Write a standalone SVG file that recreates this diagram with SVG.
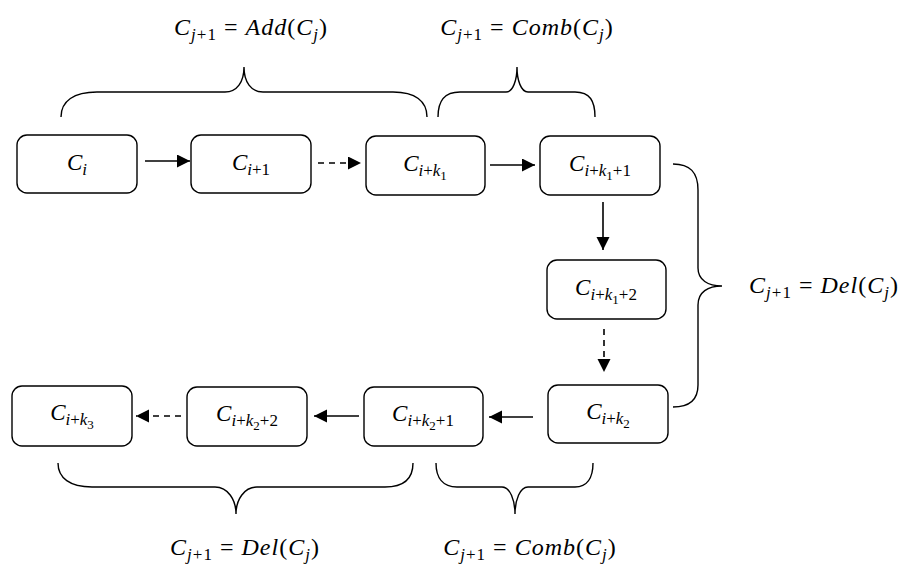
<svg xmlns="http://www.w3.org/2000/svg" width="901" height="566" viewBox="0 0 901 566">
<style>
.box{fill:#fff;stroke:#000;stroke-width:1.4}
.t{font-family:"Liberation Serif","DejaVu Serif",serif;font-size:23px;font-style:italic;text-anchor:middle;fill:#000}
.l{font-size:24px;letter-spacing:1px}
.s{font-size:17px}
.ss{font-size:13px}
.u{font-style:normal}
.c{fill:none;stroke:#000;stroke-width:1.6}
.d{stroke-dasharray:6 5}
.br{fill:none;stroke:#000;stroke-width:1.4}
</style>
<defs>
<marker id="ah" markerUnits="userSpaceOnUse" markerWidth="14" markerHeight="14" refX="13" refY="6.5" orient="auto">
<path d="M0,0 L13,6.5 L0,13 Z" fill="#000"/>
</marker>
</defs>
<g id="n1"><rect class="box" x="17" y="135" width="120" height="58" rx="10"/><text class="t" x="77" y="170">C<tspan class="s" dy="5">i</tspan></text></g>
<g id="n2"><rect class="box" x="191" y="135" width="120" height="58" rx="10"/><text class="t" x="251" y="170">C<tspan class="s" dy="5">i</tspan><tspan class="s u">+1</tspan></text></g>
<g id="n3"><rect class="box" x="366" y="136" width="119" height="59" rx="10"/><text class="t" x="425" y="171">C<tspan class="s" dy="5">i</tspan><tspan class="s u">+</tspan><tspan class="s">k</tspan><tspan class="ss u" dy="4">1</tspan></text></g>
<g id="n4"><rect class="box" x="540" y="136" width="120" height="59" rx="10"/><text class="t" x="600" y="171">C<tspan class="s" dy="5">i</tspan><tspan class="s u">+</tspan><tspan class="s">k</tspan><tspan class="ss u" dy="4">1</tspan><tspan class="s u" dy="-4">+1</tspan></text></g>
<g id="n5"><rect class="box" x="547" y="260" width="119" height="59" rx="10"/><text class="t" x="606" y="295">C<tspan class="s" dy="5">i</tspan><tspan class="s u">+</tspan><tspan class="s">k</tspan><tspan class="ss u" dy="4">1</tspan><tspan class="s u" dy="-4">+2</tspan></text></g>
<g id="n6"><rect class="box" x="548" y="385" width="120" height="58" rx="10"/><text class="t" x="608" y="419">C<tspan class="s" dy="5">i</tspan><tspan class="s u">+</tspan><tspan class="s">k</tspan><tspan class="ss u" dy="4">2</tspan></text></g>
<g id="n7"><rect class="box" x="364" y="387" width="119" height="59" rx="10"/><text class="t" x="423" y="421">C<tspan class="s" dy="5">i</tspan><tspan class="s u">+</tspan><tspan class="s">k</tspan><tspan class="ss u" dy="4">2</tspan><tspan class="s u" dy="-4">+1</tspan></text></g>
<g id="n8"><rect class="box" x="187" y="387" width="120" height="59" rx="10"/><text class="t" x="247" y="421">C<tspan class="s" dy="5">i</tspan><tspan class="s u">+</tspan><tspan class="s">k</tspan><tspan class="ss u" dy="4">2</tspan><tspan class="s u" dy="-4">+2</tspan></text></g>
<g id="n9"><rect class="box" x="12" y="386" width="120" height="60" rx="10"/><text class="t" x="72" y="420">C<tspan class="s" dy="5">i</tspan><tspan class="s u">+</tspan><tspan class="s">k</tspan><tspan class="ss u" dy="4">3</tspan></text></g>
<g id="connectors">
<line class="c" x1="145" y1="161" x2="190" y2="161" marker-end="url(#ah)"/>
<line class="c d" x1="318" y1="163" x2="361" y2="163" marker-end="url(#ah)"/>
<line class="c" x1="490" y1="165" x2="535" y2="165" marker-end="url(#ah)"/>
<line class="c" x1="603" y1="202" x2="603" y2="250" marker-end="url(#ah)"/>
<line class="c d" x1="604" y1="329" x2="604" y2="372" marker-end="url(#ah)"/>
<line class="c" x1="533" y1="417" x2="489" y2="417" marker-end="url(#ah)"/>
<line class="c" x1="359" y1="416" x2="314" y2="416" marker-end="url(#ah)"/>
<line class="c d" x1="181" y1="416" x2="136" y2="416" marker-end="url(#ah)"/>
</g>
<g id="braces">
<path class="br" d="M61,117 C61,101 74,92 97,92 L225,92 C237,92 244,82 244,67 C244,82 251,92 263,92 L393,92 C415,92 427,101 427,117"/>
<path class="br" d="M438,117 C438,101 444,92 460,92 L506,92 C513,92 517,80 517,67 C517,80 521,92 528,92 L575,92 C590,92 595,101 595,117"/>
<path class="br" d="M673,164 C690,164 698,172 698,190 L698,268 C698,280 708,286 722,286 C708,286 698,292 698,305 L698,385 C698,400 690,407 673,407"/>
<path class="br" d="M58,463 C58,478 70,487 92,487 L215,487 C228,487 236,500 236,514 C236,500 244,487 257,487 L385,487 C404,487 413,478 413,463"/>
<path class="br" d="M436,463 C436,478 443,487 457,487 L502,487 C510,487 515,500 515,514 C515,500 520,487 528,487 L575,487 C587,487 593,478 593,463"/>
</g>
<g id="labels">
<text class="t l" x="251" y="35">C<tspan class="s" dy="5">j</tspan><tspan class="s u">+1</tspan><tspan class="u" dy="-5"> = </tspan>Add<tspan class="u">(</tspan>C<tspan class="s" dy="5">j</tspan><tspan class="u" dy="-5">)</tspan></text>
<text class="t l" x="527" y="35">C<tspan class="s" dy="5">j</tspan><tspan class="s u">+1</tspan><tspan class="u" dy="-5"> = </tspan>Comb<tspan class="u">(</tspan>C<tspan class="s" dy="5">j</tspan><tspan class="u" dy="-5">)</tspan></text>
<text class="t l" x="824" y="293">C<tspan class="s" dy="5">j</tspan><tspan class="s u">+1</tspan><tspan class="u" dy="-5"> = </tspan>Del<tspan class="u">(</tspan>C<tspan class="s" dy="5">j</tspan><tspan class="u" dy="-5">)</tspan></text>
<text class="t l" x="245" y="555">C<tspan class="s" dy="5">j</tspan><tspan class="s u">+1</tspan><tspan class="u" dy="-5"> = </tspan>Del<tspan class="u">(</tspan>C<tspan class="s" dy="5">j</tspan><tspan class="u" dy="-5">)</tspan></text>
<text class="t l" x="530" y="555">C<tspan class="s" dy="5">j</tspan><tspan class="s u">+1</tspan><tspan class="u" dy="-5"> = </tspan>Comb<tspan class="u">(</tspan>C<tspan class="s" dy="5">j</tspan><tspan class="u" dy="-5">)</tspan></text>
</g>
</svg>
